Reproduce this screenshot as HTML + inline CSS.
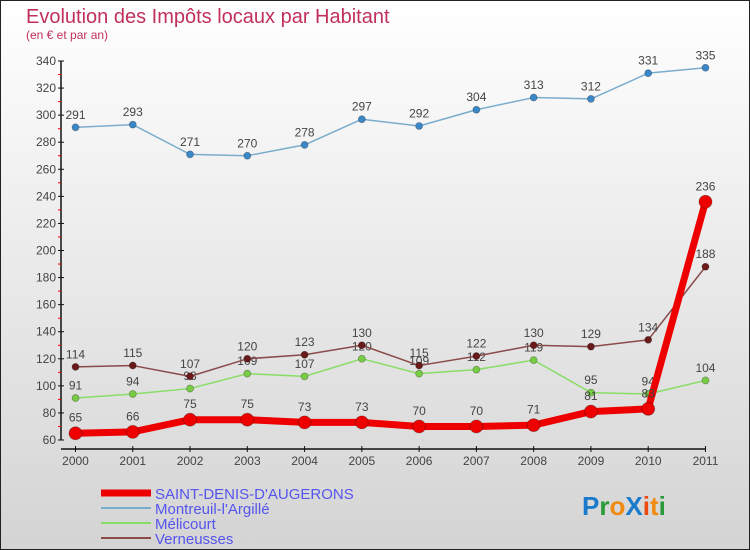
<!DOCTYPE html>
<html><head><meta charset="utf-8"><style>
html,body{margin:0;padding:0;}
body{width:750px;height:550px;overflow:hidden;font-family:"Liberation Sans",sans-serif;}
svg{display:block;}
</style></head><body>
<svg width="750" height="550" xmlns="http://www.w3.org/2000/svg">
<defs><linearGradient id="bg" x1="0" y1="0" x2="0" y2="1"><stop offset="0" stop-color="#ffffff"/><stop offset="1" stop-color="#d4d4d4"/></linearGradient></defs>
<rect x="0.5" y="0.5" width="749" height="549" fill="url(#bg)" stroke="#222"/>
<text x="26" y="23" font-size="20" fill="#c0305a">Evolution des Impôts locaux par Habitant</text>
<text x="26" y="39" font-size="12" fill="#c0305a">(en € et par an)</text>
<g id="axes"></g>
<g id="series"></g>
<g>
<line x1="101" y1="493" x2="151" y2="493" stroke="#ee0000" stroke-width="7"/>
<text x="155" y="499" font-size="15" fill="#5555ee">SAINT-DENIS-D'AUGERONS</text>
<line x1="101" y1="508" x2="151" y2="508" stroke="#7aaccc" stroke-width="2"/>
<text x="155" y="514" font-size="15" fill="#5555ee">Montreuil-l'Argillé</text>
<line x1="101" y1="523" x2="151" y2="523" stroke="#88dd66" stroke-width="2"/>
<text x="155" y="529" font-size="15" fill="#5555ee">Mélicourt</text>
<line x1="101" y1="538" x2="151" y2="538" stroke="#8a4a4a" stroke-width="2"/>
<text x="155" y="544" font-size="15" fill="#5555ee">Verneusses</text>
</g>
<text x="582" y="515" font-size="26" font-weight="bold"><tspan fill="#1a7acc">P</tspan><tspan fill="#2a9a3a">r</tspan><tspan fill="#f08a10">o</tspan><tspan fill="#1a7acc">X</tspan><tspan fill="#e84a10">i</tspan><tspan fill="#f08a10">t</tspan><tspan fill="#2a9a3a">i</tspan></text>
</svg>
<script>
const years = [2000,2001,2002,2003,2004,2005,2006,2007,2008,2009,2010,2011];
const yTicks = [60,80,100,120,140,160,180,200,220,240,260,280,300,320,340];
const saintDenis = [65,66,75,75,73,73,70,70,71,81,83,236];
const montreuil = [291,293,271,270,278,297,292,304,313,312,331,335];
const melicourt = [91,94,98,109,107,120,109,112,119,95,94,104];
const verneusses = [114,115,107,120,123,130,115,122,130,129,134,188];

const NS="http://www.w3.org/2000/svg";
function xs(i){return 75.5+i*57.27;}
function ys(v){return 440-(v-60)*(379/280);}
function mk(tag,attrs,parent){const e=document.createElementNS(NS,tag);for(const k in attrs)e.setAttribute(k,attrs[k]);parent.appendChild(e);return e;}
const axes=document.getElementById('axes');
const ser=document.getElementById('series');
let a=mk('line',{x1:61,y1:61,x2:61,y2:440,stroke:'#111','stroke-width':1.5},axes);


a=mk('line',{x1:61,y1:449,x2:706,y2:449,stroke:'#111','stroke-width':1.5},axes);


yTicks.forEach((t,i)=>{
  const y=ys(t);
  let l=mk('line',{x1:58,y1:y,x2:64,y2:y,stroke:'#111'},axes);
  
  
  if(i<yTicks.length-1){let m=mk('line',{x1:58,y1:ys(t+10),x2:61,y2:ys(t+10),stroke:'#e00'},axes);
  
  }
  let tx=mk('text',{x:56,y:y+4,'font-size':12,fill:'#444','text-anchor':'end'},axes);tx.textContent=t;
  
  
});
years.forEach((yr,i)=>{
  const x=xs(i);
  let l=mk('line',{x1:x,y1:446,x2:x,y2:452,stroke:'#111'},axes);
  
  
  let tx=mk('text',{x:x,y:465,'font-size':12,fill:'#444','text-anchor':'middle'},axes);tx.textContent=yr;
  
  
});
function draw(vals,color,width,r,name,dot){
  const g=mk('g',{},ser);
  
  
  const p=mk('polyline',{points:vals.map((v,i)=>xs(i)+','+ys(v)).join(' '),fill:'none',stroke:color,'stroke-width':width,'stroke-linejoin':'round'},g);
  
  
  vals.forEach((v,i)=>{
    const c=mk('circle',{cx:xs(i),cy:ys(v),r:r,fill:dot,stroke:'rgba(0,0,0,0.3)','stroke-width':0.8},g);
    
    
    const t=mk('text',{x:xs(i),y:ys(v)-(r+5),'font-size':12,fill:'#444','text-anchor':'middle'},g);
    t.textContent=v;
    
    
  });
}
draw(montreuil,'#7aaccc',1.5,3.5,'montreuil','#3a88c8');
draw(melicourt,'#88dd66',1.5,3.5,'melicourt','#77cc44');
draw(verneusses,'#8a4a4a',1.5,3.5,'verneusses','#6a1a1a');
draw(saintDenis,'#ee0000',7,6.5,'saint-denis','#ee0000');
</script>
</body></html>
